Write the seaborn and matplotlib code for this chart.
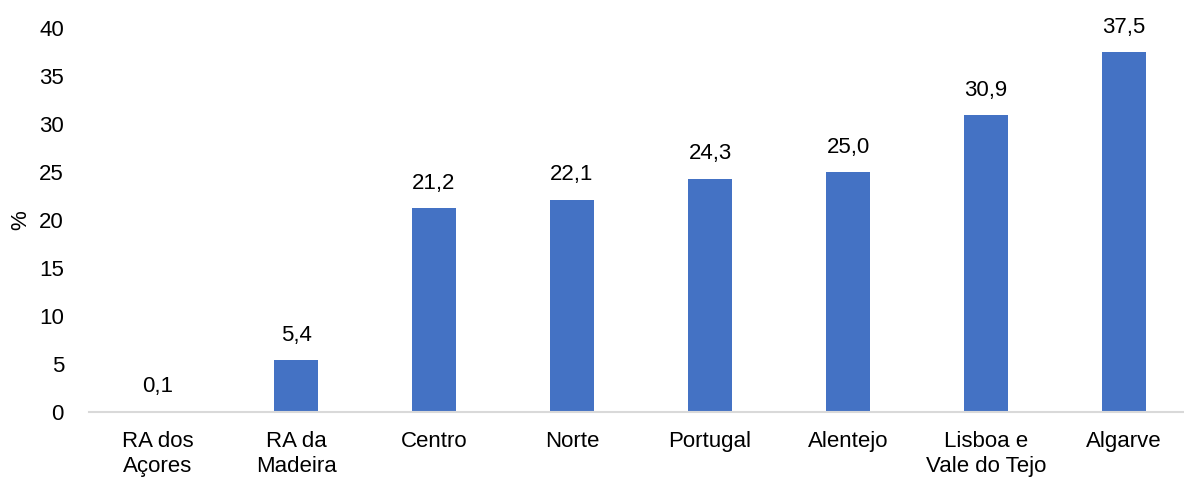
import matplotlib
matplotlib.use("Agg")
import matplotlib.pyplot as plt
import seaborn as sns
import pandas as pd

categories = ["RA dos\nAçores", "RA da\nMadeira", "Centro", "Norte", "Portugal",
              "Alentejo", "Lisboa e\nVale do Tejo", "Algarve"]
values = [0.1, 5.4, 21.2, 22.1, 24.3, 25.0, 30.9, 37.5]
labels = ["0,1", "5,4", "21,2", "22,1", "24,3", "25,0", "30,9", "37,5"]
yticks = [0, 5, 10, 15, 20, 25, 30, 35, 40]

sns.set_theme(style="white")
plt.rcParams['font.family'] = ['Liberation Sans', 'DejaVu Sans']

df = pd.DataFrame({"cat": categories, "val": values})

FS = 16
fig = plt.figure(figsize=(11.84, 4.8), dpi=100)
ax = fig.add_axes([89 / 1184, 68 / 480, 1104 / 1184, 384 / 480])
sns.barplot(data=df, x="cat", y="val", color="#4472C4", width=0.32,
            saturation=1, linewidth=0, ax=ax)

for i, (v, t) in enumerate(zip(values, labels)):
    ax.text(i, v + 1.5, t, ha="center", va="bottom", fontsize=FS, color="#000000")

ax.set_xlim(-0.5, 7.5)
ax.set_ylim(0, 40)
ax.set_yticks(yticks)
ax.set_yticklabels([str(y) for y in yticks], fontsize=FS, color="#000000")
ax.tick_params(axis="x", labelsize=FS, colors="#000000", length=0, pad=14)
ax.tick_params(axis="y", length=0, pad=18)
for lbl in ax.get_xticklabels():
    lbl.set_linespacing(1.2)
ax.set_xlabel("")
ax.set_ylabel("%", fontsize=FS, color="#000000", labelpad=6)
for s in ["top", "right", "left"]:
    ax.spines[s].set_visible(False)
ax.spines["bottom"].set_color("#D9D9D9")
ax.spines["bottom"].set_linewidth(1.5)
ax.grid(False)

fig.savefig("out.png", dpi=100)
